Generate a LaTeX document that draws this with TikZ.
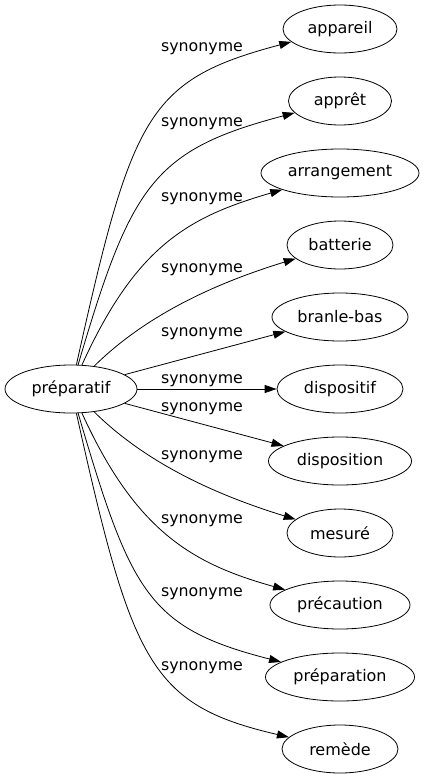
\documentclass[tikz,border=0pt]{standalone}
\usepackage{fontspec}
\setmainfont{DejaVu Sans}
\usetikzlibrary{arrows.meta,shapes.geometric}
\begin{document}
\begin{tikzpicture}[x=1pt,y=-1pt,line width=0.8pt,
        word/.style={draw,ellipse,inner sep=0pt,minimum height=48pt,font=\fontsize{16}{18}\selectfont},
        syn/.style={anchor=base,font=\fontsize{15.8}{18}\selectfont},
        rel/.style={-{Triangle[length=12pt,width=8pt]}}]
    \useasboundingbox (0,0) rectangle (425,779);
    \node[word,minimum width=132pt] (prep) at (71,389) {préparatif};
    \node[word,minimum width=114pt] (appareil) at (340,29) {appareil};
    \node[word,minimum width=103pt] (appret) at (340,101) {apprêt};
    \node[word,minimum width=158pt] (arrangement) at (340,173) {arrangement};
    \node[word,minimum width=106pt] (batterie) at (340,245) {batterie};
    \node[word,minimum width=136pt] (branlebas) at (340,317) {branle-bas};
    \node[word,minimum width=126pt] (dispositif) at (340,389) {dispositif};
    \node[word,minimum width=143pt] (disposition) at (340,461) {disposition};
    \node[word,minimum width=106pt] (mesure) at (340,533) {mesuré};
    \node[word,minimum width=140pt] (precaution) at (340,605) {précaution};
    \node[word,minimum width=149pt] (preparation) at (340,677) {préparation};
    \node[word,minimum width=116pt] (remede) at (340,749) {remède};
    % edge labels
    \foreach \y in {51,126,201,272,336,383,411,459,523,596,670}
        \node[syn] (syn\y) at (202,\y) {synonyme};
    % edges
    \draw[rel] (prep) .. controls (132,115) and (147,80) .. (appareil);
    \draw[rel] (prep) .. controls (131,185) and (153,150) .. (appret);
    \draw[rel] (prep) .. controls (136,246) and (188,217) .. (arrangement);
    \draw[rel] (prep) .. controls (145,316) and (213,284) .. (batterie);
    \draw[rel] (prep) -- (branlebas);
    \draw[rel] (prep) -- (dispositif);
    \draw[rel] (prep) -- (disposition);
    \draw[rel] (prep) .. controls (145,462) and (213,494) .. (mesure);
    \draw[rel] (prep) .. controls (136,532) and (193,564) .. (precaution);
    \draw[rel] (prep) .. controls (131,593) and (148,628) .. (preparation);
    \draw[rel] (prep) .. controls (132,663) and (150,705) .. (remede);
\end{tikzpicture}
\end{document}
